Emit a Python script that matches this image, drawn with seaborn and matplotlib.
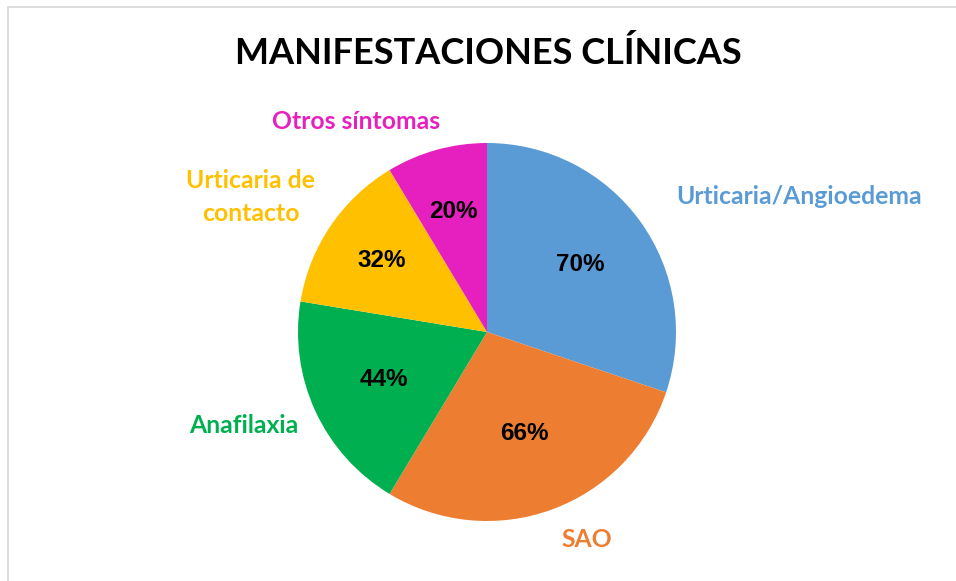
import numpy as np
import matplotlib
matplotlib.use("Agg")
import matplotlib.pyplot as plt
import seaborn as sns
from matplotlib.lines import Line2D

# data
categories = ['Urticaria/Angioedema', 'SAO', 'Anafilaxia', 'Urticaria de\ncontacto', 'Otros síntomas']
values = [70, 66, 44, 32, 20]
pct_labels = ['70%', '66%', '44%', '32%', '20%']
colors = ['#5B9BD5', '#ED7D31', '#00B050', '#FFC000', '#E620BE']

# label layout (radius factor, angle in degrees) for outer labels and pct labels
label_pos = [(1.80, 23.5), (1.22, -64.3), (1.38, -159.0), (1.44, 150.3), (1.31, 121.8)]
pct_dist = [0.61, 0.57, 0.60, 0.67, 0.66]

sns.set_theme(style="white")
plt.rcParams['font.family'] = ['Lato', 'DejaVu Sans']

W, H = 956, 581
fig = plt.figure(figsize=(W / 100, H / 100), dpi=100)
fig.patch.set_facecolor('white')

cx, cy, r = 487, 332, 189
ax = fig.add_axes([(cx - r) / W, (H - cy - r) / H, 2 * r / W, 2 * r / H])

wedges, _ = ax.pie(values, colors=colors, startangle=90, counterclock=False,
                   radius=1, wedgeprops=dict(linewidth=0))
ax.set_xlim(-1, 1)
ax.set_ylim(-1, 1)
ax.set_aspect('equal')
ax.axis('off')

for w, pct, d in zip(wedges, pct_labels, pct_dist):
    mid = np.deg2rad((w.theta1 + w.theta2) / 2)
    ax.text(d * np.cos(mid), d * np.sin(mid), pct, ha='center', va='center',
            fontsize=17.5, fontweight='bold', family='Liberation Sans', color='black')

for lab, col, (d, a) in zip(categories, colors, label_pos):
    t = np.deg2rad(a)
    ax.text(d * np.cos(t), d * np.sin(t), lab, ha='center', va='center',
            fontsize=17.8, fontweight='bold', color=col, linespacing=1.55, clip_on=False)

fig.text(488 / W, 1 - 53 / H, 'MANIFESTACIONES CLÍNICAS', ha='center', va='center',
         fontsize=26, fontweight='bold', color='black')

# chart area border (top and left visible)
fig.add_artist(Line2D([7.5 / W, 1], [1 - 6.5 / H, 1 - 6.5 / H], color='#D9D9D9', lw=1.3))
fig.add_artist(Line2D([7.5 / W, 7.5 / W], [0, 1 - 6.5 / H], color='#D9D9D9', lw=1.3))

fig.savefig('out.png', dpi=100, facecolor='white')
